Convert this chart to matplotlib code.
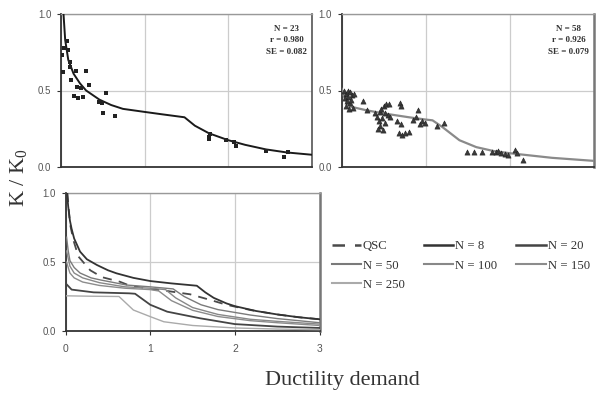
import matplotlib
matplotlib.use("Agg")
import matplotlib.pyplot as plt
from matplotlib.lines import Line2D

# ---------------- data ----------------
# Top-left panel (N = 23): fitted curve + measured squares
tl_curve_x = [0.03, 0.05, 0.087, 0.15, 0.226, 0.3, 0.46, 0.6, 0.74, 1.0, 1.2, 1.476, 1.6, 1.77, 2.0, 2.2, 2.45, 2.7, 3.0]
tl_curve_y = [1.0, 0.83, 0.70, 0.61, 0.547, 0.50, 0.44, 0.405, 0.38, 0.36, 0.345, 0.325, 0.27, 0.22, 0.175, 0.145, 0.115, 0.095, 0.08]
tl_pts_x = [0.008, 0.028, 0.040, 0.067, 0.079, 0.107, 0.107, 0.115, 0.155, 0.179, 0.206, 0.194, 0.238, 0.258,
            0.298, 0.333, 0.456, 0.492, 0.504, 0.536, 0.643, 1.766, 1.766, 1.782, 1.972, 2.071, 2.091, 2.448, 2.667, 2.718]
tl_pts_y = [0.732, 0.623, 0.776, 0.824, 0.765, 0.688, 0.656, 0.569, 0.464, 0.627, 0.449, 0.521, 0.514, 0.460,
            0.627, 0.536, 0.427, 0.416, 0.355, 0.481, 0.333, 0.198, 0.181, 0.216, 0.176, 0.166, 0.137, 0.107, 0.068, 0.100]
tl_stats = "N = 23\nr = 0.980\nSE = 0.082"

# Top-right panel (N = 58): fitted curve + measured triangles
tr_curve_x = [0.0, 0.04, 0.1, 0.3, 0.5, 0.8, 1.0, 1.08, 1.2, 1.4, 1.6, 1.8, 2.0, 2.5, 3.0]
tr_curve_y = [0.51, 0.44, 0.395, 0.37, 0.35, 0.325, 0.31, 0.305, 0.26, 0.175, 0.13, 0.105, 0.09, 0.06, 0.04]
tr_pts_x = [0.03, 0.05, 0.07, 0.10, 0.12, 0.04, 0.08, 0.06, 0.10, 0.05, 0.09, 0.13, 0.15, 0.11,
            0.25, 0.30, 0.40,
            0.42, 0.45, 0.47, 0.50, 0.53, 0.56, 0.44, 0.46, 0.43, 0.48, 0.51, 0.52, 0.55, 0.49, 0.58,
            0.69, 0.70, 0.66, 0.70, 0.68, 0.72, 0.75, 0.80, 0.85, 0.88, 0.91, 0.93, 0.96, 0.99, 1.13, 1.22,
            1.49, 1.57, 1.67, 1.79, 1.83, 1.86, 1.90, 1.94, 1.98, 2.06, 2.08, 2.16]
tr_pts_y = [0.50, 0.48, 0.50, 0.49, 0.47, 0.45, 0.46, 0.43, 0.42, 0.40, 0.38, 0.385, 0.48, 0.44,
            0.43, 0.37, 0.35,
            0.33, 0.36, 0.38, 0.40, 0.41, 0.41, 0.30, 0.27, 0.25, 0.32, 0.35, 0.29, 0.34, 0.24, 0.33,
            0.42, 0.40, 0.30, 0.28, 0.22, 0.21, 0.22, 0.23, 0.31, 0.33, 0.37, 0.28, 0.30, 0.29, 0.27, 0.285,
            0.10, 0.10, 0.10, 0.10, 0.10, 0.107, 0.093, 0.082, 0.078, 0.111, 0.089, 0.046]
tr_stats = "N = 58\nr = 0.926\nSE = 0.079"

# Bottom panel: model curves
qsc_x = [0.02, 0.05, 0.09, 0.15, 0.29, 0.43, 0.64, 0.76, 1.0, 1.2, 1.47, 1.71, 1.9, 2.2, 2.5, 2.75, 3.0]
qsc_y = [1.0, 0.78, 0.66, 0.54, 0.44, 0.39, 0.357, 0.328, 0.305, 0.29, 0.266, 0.225, 0.19, 0.15, 0.12, 0.10, 0.085]
n8_x = [0.015, 0.03, 0.05, 0.07, 0.1, 0.17, 0.25, 0.37, 0.5, 0.6, 0.8, 1.0, 1.25, 1.55, 1.65, 1.75, 1.9, 2.0, 2.25, 2.5, 2.75, 3.0]
n8_y = [1.0, 0.9, 0.8, 0.74, 0.67, 0.575, 0.52, 0.478, 0.44, 0.418, 0.385, 0.362, 0.345, 0.328, 0.28, 0.24, 0.2, 0.18, 0.145, 0.12, 0.1, 0.085]
n20_x = [0.0, 0.07, 0.33, 0.75, 0.82, 1.0, 1.2, 1.59, 2.0, 2.5, 3.0]
n20_y = [0.345, 0.30, 0.28, 0.273, 0.27, 0.19, 0.14, 0.092, 0.05, 0.032, 0.022]
n50_x = [0.01, 0.03, 0.05, 0.1, 0.17, 0.3, 0.41, 0.72, 1.0, 1.27, 1.4, 1.6, 1.8, 2.18, 2.5, 3.0]
n50_y = [0.68, 0.58, 0.51, 0.46, 0.42, 0.385, 0.37, 0.333, 0.32, 0.305, 0.25, 0.19, 0.155, 0.116, 0.09, 0.06]
n100_x = [0.01, 0.05, 0.1, 0.2, 0.4, 0.7, 1.0, 1.18, 1.3, 1.5, 1.8, 2.18, 2.5, 3.0]
n100_y = [0.58, 0.47, 0.42, 0.385, 0.35, 0.32, 0.31, 0.30, 0.24, 0.17, 0.12, 0.085, 0.07, 0.05]
n150_x = [0.01, 0.05, 0.1, 0.2, 0.4, 0.7, 1.0, 1.1, 1.25, 1.5, 1.8, 2.18, 2.5, 3.0]
n150_y = [0.50, 0.42, 0.385, 0.355, 0.33, 0.31, 0.30, 0.29, 0.22, 0.15, 0.105, 0.075, 0.06, 0.04]
n250_x = [0.0, 0.3, 0.63, 0.8, 1.0, 1.16, 1.5, 2.0, 2.5, 3.0]
n250_y = [0.255, 0.252, 0.25, 0.152, 0.104, 0.067, 0.04, 0.022, 0.014, 0.01]

legend_labels = ["QSC", "N = 8", "N = 20", "N = 50", "N = 100", "N = 150", "N = 250"]
y_ticks = [0.0, 0.5, 1.0]
y_ticklabels = ["0.0", "0.5", "1.0"]
x_ticks = [0, 1, 2, 3]
x_ticklabels = ["0", "1", "2", "3"]

# ---------------- figure ----------------
W, H = 605, 397
fig = plt.figure(figsize=(W / 100, H / 100), dpi=100)
SERIF = ["Liberation Serif", "DejaVu Serif"]
SANS = ["Liberation Sans", "DejaVu Sans"]


def ax_rect(l, t, r, b):
    return [l / W, 1 - b / H, (r - l) / W, (b - t) / H]


def style_axes(ax, show_x_labels, right_color="#777777", right_width=1.8):
    ax.set_xlim(0, 3)
    ax.set_ylim(0, 1)
    ax.set_yticks(y_ticks)
    ax.set_yticklabels(y_ticklabels, fontfamily=SANS, fontsize=7, color="#555555")
    ax.set_xticks(x_ticks)
    if show_x_labels:
        ax.set_xticklabels(x_ticklabels, fontfamily=SANS, fontsize=7.5, color="#555555")
        ax.tick_params(axis="x", length=3, width=0.8, color="#333333", pad=6)
    else:
        ax.set_xticklabels([])
        ax.tick_params(axis="x", length=0)
    ax.tick_params(axis="y", length=3, width=0.8, color="#333333", pad=4)
    ax.grid(True, color="#cccccc", linewidth=0.9)
    ax.set_axisbelow(True)
    ax.spines["left"].set_color("#333333")
    ax.spines["left"].set_linewidth(1.3)
    ax.spines["bottom"].set_color("#333333")
    ax.spines["bottom"].set_linewidth(1.3)
    ax.spines["top"].set_color("#999999")
    ax.spines["top"].set_linewidth(1.0)
    ax.spines["right"].set_color(right_color)
    ax.spines["right"].set_linewidth(right_width)


# Top-left
ax1 = fig.add_axes(ax_rect(61, 14, 312, 167))
style_axes(ax1, False, right_color="#555555", right_width=1.2)
ax1.plot(tl_curve_x, tl_curve_y, color="#1a1a1a", linewidth=1.4, zorder=3)
ax1.scatter(tl_pts_x, tl_pts_y, marker="s", s=10, color="#222222", linewidths=0, zorder=4)
ax1.text(0.9, 0.93, tl_stats, transform=ax1.transAxes, ha="center", va="top",
         fontfamily=SERIF, fontsize=6.5, fontweight="bold", color="#333333", linespacing=1.6)

# Top-right
ax2 = fig.add_axes(ax_rect(341.7, 14, 594, 167))
style_axes(ax2, False)
ax2.plot(tr_curve_x, tr_curve_y, color="#8a8a8a", linewidth=1.6, zorder=3)
ax2.scatter(tr_pts_x, tr_pts_y, marker="^", s=14, color="#3a3a3a", edgecolors="#222222",
            linewidths=0.4, zorder=4)
ax2.text(0.9, 0.93, tr_stats, transform=ax2.transAxes, ha="center", va="top",
         fontfamily=SERIF, fontsize=6.5, fontweight="bold", color="#333333", linespacing=1.6)

# Bottom
ax3 = fig.add_axes(ax_rect(65.7, 193, 319.5, 331))
style_axes(ax3, True)
series = [
    (qsc_x, qsc_y, "#4a4a4a", (0, (5, 4)), 1.3),
    (n8_x, n8_y, "#333333", "-", 1.3),
    (n20_x, n20_y, "#444444", "-", 1.3),
    (n50_x, n50_y, "#7a7a7a", "-", 1.0),
    (n100_x, n100_y, "#888888", "-", 1.0),
    (n150_x, n150_y, "#8c8c8c", "-", 1.0),
    (n250_x, n250_y, "#aaaaaa", "-", 1.0),
]
handles = []
for (xs, ys, c, ls, lw), lab in zip(series, legend_labels):
    ax3.plot(xs, ys, color=c, linestyle=ls, linewidth=lw, zorder=3)
    handles.append(Line2D([], [], color=c, linestyle=ls, linewidth=lw + 0.5, label=lab))

# legend fills column-wise; reorder so rows read QSC, N=8, N=20 / N=50, N=100, N=150 / N=250
order = [0, 3, 6, 1, 4, 2, 5]
leg = fig.legend(handles=[handles[i] for i in order], loc="upper left",
                 bbox_to_anchor=(320 / W, 1 - 229 / H),
                 ncol=3, frameon=False, handlelength=2.3, handletextpad=0.15,
                 columnspacing=1.5, labelspacing=0.55,
                 prop={"family": SERIF, "size": 9.2})
for t in leg.get_texts():
    t.set_color("#333333")

# Axis labels
fig.text(19 / W, 1 - 178 / H, r"K / K$_\mathregular{0}$", rotation=90, ha="center", va="center",
         fontfamily=SERIF, fontsize=16, color="#333333")
fig.text(265 / W, 1 - 381 / H, "Ductility demand", ha="left", va="center",
         fontfamily=SERIF, fontsize=16, color="#333333")

fig.savefig("out.png", dpi=100)
